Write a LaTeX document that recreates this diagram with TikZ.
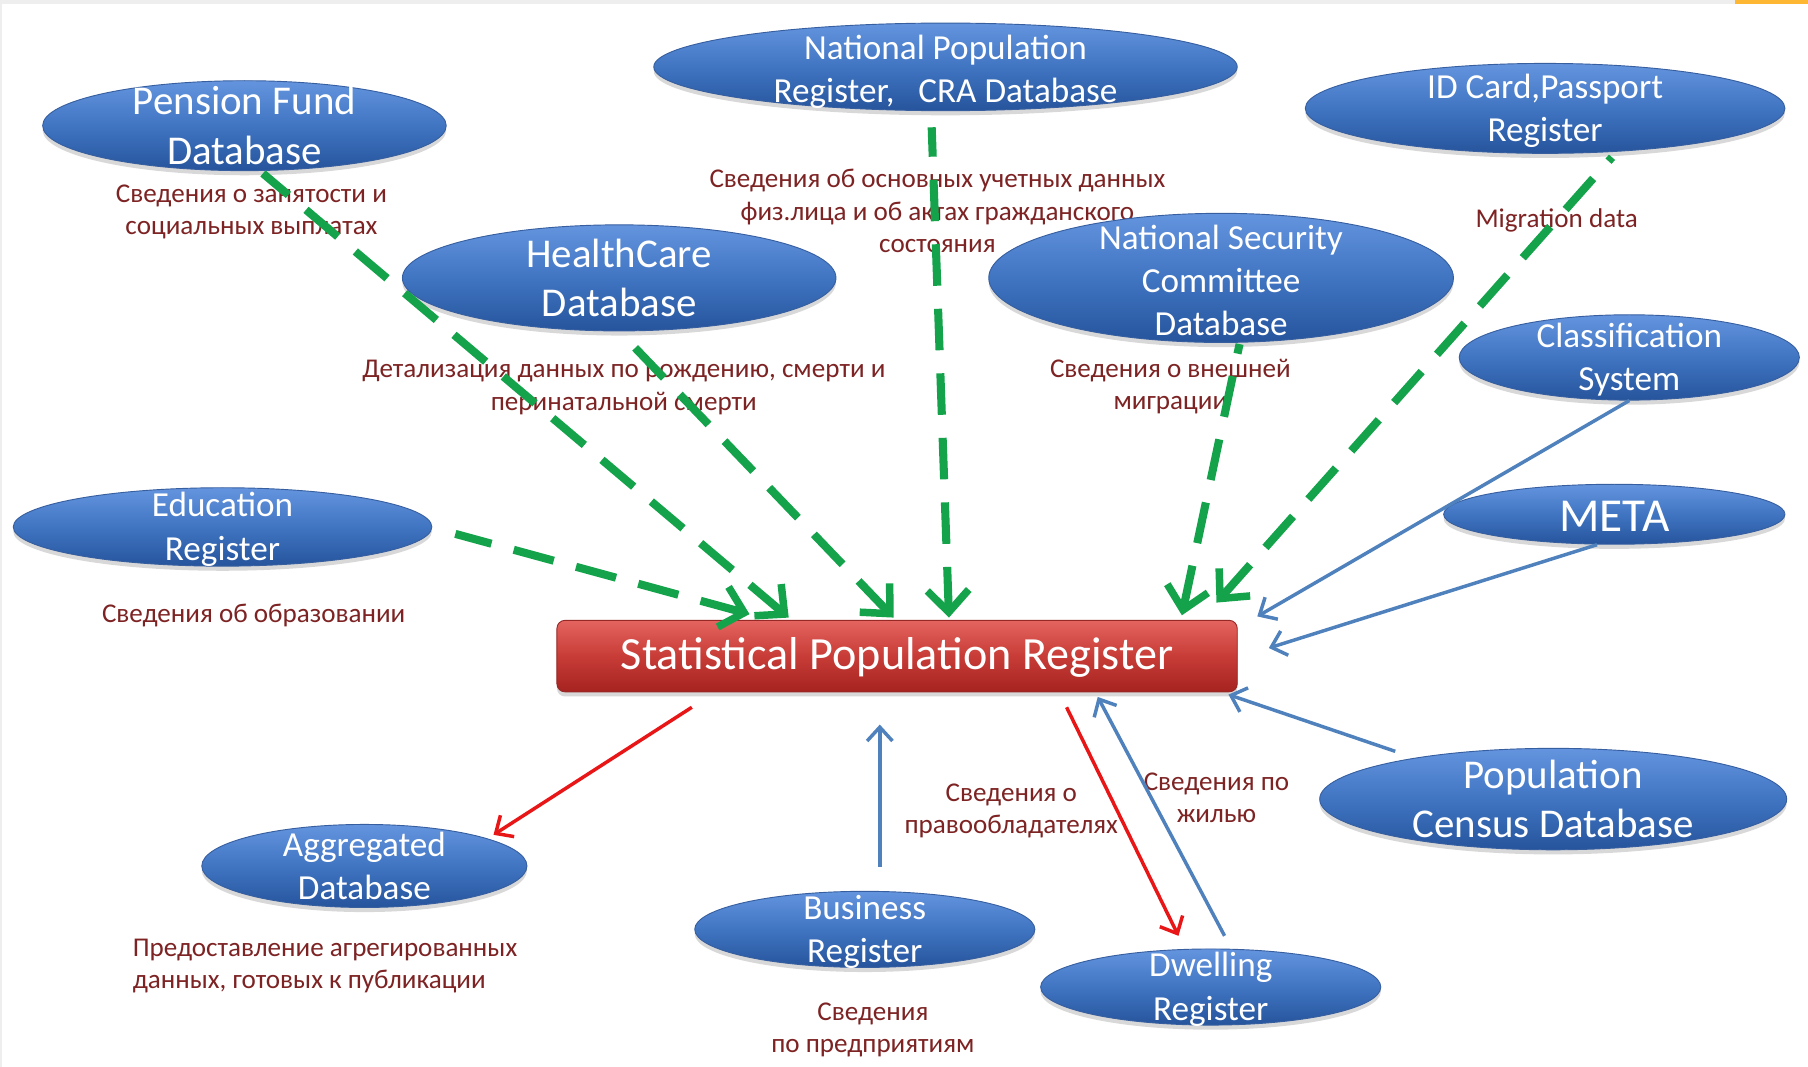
\documentclass[tikz,border=0pt]{standalone}
\usepackage{fontspec}
\setmainfont{Carlito}
\usetikzlibrary{shapes.geometric,arrows.meta,shadows,calc}
\definecolor{dbtop}{RGB}{100,148,222}
\definecolor{dbmid}{RGB}{64,117,194}
\definecolor{dbbot}{RGB}{38,84,156}
\definecolor{dbborder}{RGB}{55,95,160}
\definecolor{sprtop}{RGB}{228,100,95}
\definecolor{sprmid}{RGB}{200,60,55}
\definecolor{sprbot}{RGB}{165,35,32}
\definecolor{sprborder}{RGB}{150,40,38}
\definecolor{lblred}{RGB}{125,35,35}
\definecolor{arrgreen}{RGB}{20,163,75}
\definecolor{arrblue}{RGB}{79,129,189}
\definecolor{arrred}{RGB}{232,22,22}
\definecolor{framegray}{RGB}{238,238,238}
\definecolor{frameorange}{RGB}{253,183,50}
\newcommand\fsz[2]{\fontsize{#1}{#2}\selectfont}
\begin{document}
\begin{tikzpicture}[x=1pt,y=-1pt,
  db/.style={ellipse, draw=dbborder, line width=0.8pt, top color=dbtop, bottom color=dbbot, middle color=dbmid, inner sep=0pt,
     drop shadow={opacity=0.3,shadow xshift=0pt,shadow yshift=-4pt}},
  dbtxt/.style={text=white, align=center, inner sep=0pt, yshift=-2pt, font=\fsz{30.5}{37.5}},
  dbbig/.style={text=white, align=center, inner sep=0pt, font=\fsz{35.5}{43}},
  lbl/.style={text=lblred, align=center, inner sep=0pt, font=\fsz{23.5}{28}},
  garrow/.style={draw=arrgreen, line width=7pt, dash pattern=on 36pt off 20pt, {Straight Barb[length=19pt,width=36pt,line width=6.5pt]}-},
  barrow/.style={draw=arrblue, line width=3pt, -{Straight Barb[length=12pt,width=22pt]}},
  rarrow/.style={draw=arrred, line width=3pt, -{Straight Barb[length=12pt,width=22pt]}}
]
\useasboundingbox (0,0) rectangle (1568,925);
\fill[white] (0,0) rectangle (1568,925);
\fill[framegray] (0,0) rectangle (1568,3.5);
\fill[framegray] (0,0) rectangle (2,925);
\fill[frameorange] (1505,0) rectangle (1568,3.5);

% labels
\node[lbl] (pensionlbl) at (218,184) {Сведения о занятости и\\социальных выплатах};
\node[lbl] (nprlbl) at (813,183) {Сведения об основных учетных данных\\физ.лица и об актах гражданского\\состояния};
\node[lbl] (migrlbl) at (1350,191) {Migration data};
\node[lbl] (healthlbl) at (541,336) {Детализация данных по рождению, смерти и\\перинатальной смерти};
\node[lbl] (nsclbl) at (1015,335) {Сведения о внешней\\миграции};
\node[lbl] (edulbl) at (220,534) {Сведения об образовании};
\node[lbl, align=left, anchor=west] (aggrlbl) at (115,838) {Предоставление агрегированных\\данных, готовых к публикации};
\node[lbl] (ownerlbl) at (877,703) {Сведения о\\правообладателях};
\node[lbl] (dwelllbl) at (1055,692) {Сведения по\\жилью};
\node[lbl] (businesslbl) at (757,893) {Сведения\\по предприятиям};

% ellipses
\node[db, minimum width=350pt, minimum height=78pt] (pension) at (212,109) {};
\node[dbbig] (pensiontxt) at (pension) {Pension Fund\\Database};
\node[db, minimum width=506pt, minimum height=76pt] (npr) at (820,58) {};
\node[dbtxt, yshift=-2pt] (nprtxt) at (npr) {National Population\\Register,~~~CRA Database};
\node[db, minimum width=416pt, minimum height=78pt] (idcard) at (1340,94) {};
\node[dbtxt] (idcardtxt) at (idcard) {ID Card,Passport\\Register};
\node[db, minimum width=376pt, minimum height=92pt] (health) at (537,241) {};
\node[dbbig] (healthtxt) at (health) {HealthCare\\Database};
\node[db, minimum width=403pt, minimum height=112pt] (nsc) at (1059,241) {};
\node[dbtxt] (nsctxt) at (nsc) {National Security\\Committee\\Database};
\node[db, minimum width=295pt, minimum height=74pt] (classif) at (1413,310) {};
\node[dbtxt] (classiftxt) at (classif) {Classification\\System};
\node[db, minimum width=363pt, minimum height=68pt] (edu) at (193,457) {};
\node[dbtxt] (edutxt) at (edu) {Education\\Register};
\node[db, minimum width=296pt, minimum height=52pt] (meta) at (1400,446) {};
\node[dbtxt, font=\fsz{41}{42}] (metatxt) at (meta) {META};
\node[db, minimum width=282pt, minimum height=72pt] (aggr) at (316,751) {};
\node[dbtxt, yshift=2pt] (aggrtxt) at (aggr) {Aggregated\\Database};
\node[db, minimum width=295pt, minimum height=66pt] (business) at (750,806) {};
\node[dbtxt] (businesstxt) at (business) {Business\\Register};
\node[db, minimum width=295pt, minimum height=66pt] (dwelling) at (1050,856) {};
\node[dbtxt] (dwellingtxt) at (dwelling) {Dwelling\\Register};
\node[db, minimum width=405pt, minimum height=88pt] (census) at (1347,693) {};
\node[dbbig] (censustxt) at (census) {Population\\Census Database};

% central register
\node[draw=sprborder, line width=0.8pt, rounded corners=7pt, top color=sprtop, bottom color=sprbot, middle color=sprmid,
      minimum width=590pt, minimum height=62pt, inner sep=0pt,
      drop shadow={opacity=0.3,shadow xshift=0pt,shadow yshift=-4pt}] (spr) at (778,569) {};
\node[text=white, inner sep=0pt, font=\fsz{40}{42}, yshift=-1pt] (sprtxt) at (spr) {Statistical Population Register};

% green dashed arrows (drawn from the tip end so the dash pattern runs solid into the tip)
\draw[garrow] ([xshift=-94pt,yshift=2pt]spr.north) -- ([xshift=16pt,yshift=-2pt]pension.south);
\draw[garrow] ([xshift=-128pt,yshift=5pt]spr.north) -- ([xshift=20pt,yshift=-6pt]edu.east);
\draw[garrow] ([xshift=-3pt,yshift=2pt]spr.north) -- ([xshift=3pt,yshift=-3pt]health.south);
\draw[garrow] ([xshift=45pt,yshift=2pt]spr.north) -- ([xshift=-12pt,yshift=-14pt]npr.south);
\draw[garrow] ([xshift=247pt,yshift=4pt]spr.north) -- ([xshift=16pt,yshift=-1pt]nsc.south);
\draw[garrow] ([xshift=277pt,yshift=15pt]spr.north) -- ([xshift=58pt,yshift=-3pt]idcard.south);

% blue arrows
\draw[barrow] (classif.south) -- ([xshift=17pt,yshift=3pt]spr.north east);
\draw[barrow] ([xshift=-15pt]meta.south) -- ([xshift=27pt,yshift=7pt]spr.east);
\draw[barrow] ([xshift=-137pt,yshift=-3pt]census.north) -- ([xshift=-8pt,yshift=-2pt]spr.south east);
\draw[barrow] ([xshift=13pt,yshift=21pt]business.north) -- ([xshift=-15pt,yshift=-28pt]spr.south);
\draw[barrow] ([xshift=12pt,yshift=11pt]dwelling.north) -- ([xshift=174pt,yshift=-4pt]spr.south);

% red arrows
\draw[rarrow] ([xshift=-178pt,yshift=-13pt]spr.south) -- ([xshift=112pt,yshift=27pt]aggr.center);
\draw[rarrow] ([xshift=147pt,yshift=-13pt]spr.south) -- ([xshift=-28pt,yshift=11pt]dwelling.north);
\end{tikzpicture}
\end{document}
